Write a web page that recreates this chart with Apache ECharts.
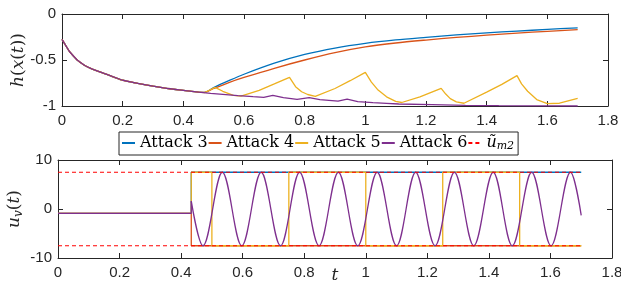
<!DOCTYPE html>
<html>
<head>
<meta charset="utf-8">
<script src="https://cdn.jsdelivr.net/npm/echarts@6/dist/echarts.min.js"></script>
<style>
  html, body { margin: 0; padding: 0; background: #fff; }
  #container { width: 621px; height: 287px; }
</style>
</head>
<body>
<div id="container"></div>
<script>
// common decay of h(x(t)) before the attacks start
var tDecay = [0, 0.01, 0.025, 0.05, 0.075, 0.1, 0.125, 0.15, 0.2, 0.25, 0.3, 0.35, 0.4, 0.45];
var hDecay = [-0.275, -0.33, -0.41, -0.5, -0.56, -0.6, -0.63, -0.66, -0.72, -0.755, -0.785, -0.81, -0.83, -0.85];

// h(x(t)) after the attack starts
var tA3 = [0.47, 0.5, 0.55, 0.6, 0.7, 0.8, 0.9, 1.0, 1.1, 1.2, 1.3, 1.4, 1.5, 1.6, 1.7];
var hA3 = [-0.852, -0.8, -0.725, -0.655, -0.535, -0.44, -0.37, -0.319, -0.282, -0.254, -0.228, -0.205, -0.186, -0.167, -0.15];
var tA4 = [0.47, 0.5, 0.55, 0.6, 0.7, 0.8, 0.9, 1.0, 1.1, 1.2, 1.3, 1.4, 1.5, 1.6, 1.7];
var hA4 = [-0.852, -0.81, -0.745, -0.69, -0.59, -0.5, -0.42, -0.358, -0.315, -0.283, -0.255, -0.23, -0.208, -0.188, -0.17];
var tA5 = [0.47, 0.505, 0.53, 0.565, 0.59, 0.65, 0.7, 0.75, 0.77, 0.79, 0.81, 0.835, 0.9, 0.95, 1.0, 1.02, 1.04, 1.07, 1.1, 1.12, 1.18, 1.25, 1.265, 1.28, 1.3, 1.325, 1.4, 1.45, 1.5, 1.515, 1.535, 1.565, 1.6, 1.64, 1.7];
var hA5 = [-0.855, -0.797, -0.84, -0.885, -0.893, -0.83, -0.76, -0.688, -0.79, -0.845, -0.875, -0.895, -0.81, -0.725, -0.634, -0.74, -0.82, -0.9, -0.95, -0.962, -0.9, -0.808, -0.87, -0.92, -0.955, -0.97, -0.85, -0.765, -0.67, -0.76, -0.84, -0.93, -0.975, -0.97, -0.917];
var tA6 = [0.49, 0.52, 0.58, 0.63, 0.665, 0.695, 0.73, 0.775, 0.815, 0.85, 0.91, 0.94, 0.975, 1.025, 1.07, 1.11, 1.22, 1.33, 1.44, 1.7];
var hA6 = [-0.862, -0.87, -0.888, -0.899, -0.906, -0.884, -0.909, -0.927, -0.908, -0.93, -0.946, -0.926, -0.953, -0.964, -0.971, -0.978, -0.986, -0.993, -0.996, -1.0];

// u_v(t) [t, u]
var uA3 = [[0, -0.9], [0.433, -0.9], [0.433, 7.5], [1.7, 7.5]];
var uA4 = [[0, -0.9], [0.433, -0.9], [0.433, -7.5], [1.7, -7.5]];
var uA5 = [[0, -0.9], [0.433, -0.9], [0.433, 7.5], [0.5, 7.5], [0.5, -7.5], [0.75, -7.5], [0.75, 7.5], [1.0, 7.5], [1.0, -7.5], [1.25, -7.5], [1.25, 7.5], [1.5, 7.5], [1.5, -7.5], [1.7, -7.5]];
var uA6flat = [[0, -0.9], [0.433, -0.9], [0.433, 1.6]];
var uA6wave = [[0.433, 1.6], [0.471, -7.5], [0.534, 7.5], [0.597, -7.5], [0.66, 7.5], [0.723, -7.5], [0.785, 7.5], [0.848, -7.5], [0.911, 7.5], [0.974, -7.5], [1.037, 7.5], [1.1, -7.5], [1.162, 7.5], [1.225, -7.5], [1.288, 7.5], [1.351, -7.5], [1.414, 7.5], [1.476, -7.5], [1.539, 7.5], [1.602, -7.5], [1.665, 7.5], [1.7, -1.3]];
var uBoundUp = [[0, 7.5], [1.7, 7.5]];
var uBoundLo = [[0, -7.5], [1.7, -7.5]];

var colors = { a3: '#0072BD', a4: '#D95319', a5: '#EDB120', a6: '#7E2F8E', bound: '#FF0000' };
var axisColor = '#262626';
var serif = 'DejaVu Serif';

function pairs(ts, vs) {
    return ts.map(function (t, i) { return [t, vs[i]]; });
}
function withDecay(ts, vs) {
    return pairs(tDecay, hDecay).concat(pairs(ts, vs));
}

function xAx(grid, pos, labels, extra) {
    var a = {
        gridIndex: grid, type: 'value', position: pos,
        min: 0, max: 1.8, interval: 0.2,
        axisLine: { onZero: false, lineStyle: { color: axisColor, width: 1 } },
        axisTick: { inside: true, length: 5, lineStyle: { color: axisColor } },
        axisLabel: { show: labels, fontFamily: 'Liberation Sans', fontSize: 15, color: axisColor, margin: 7 },
        splitLine: { show: false },
        nameMoveOverlap: false
    };
    return Object.assign(a, extra || {});
}
function yAx(grid, pos, min, max, step, labels, extra) {
    var a = {
        gridIndex: grid, type: 'value', position: pos,
        min: min, max: max, interval: step,
        axisLine: { onZero: false, lineStyle: { color: axisColor, width: 1 } },
        axisTick: { inside: true, length: 5, lineStyle: { color: axisColor } },
        axisLabel: { show: labels, fontFamily: 'Liberation Sans', fontSize: 15, color: axisColor, margin: 6 },
        splitLine: { show: false },
        nameMoveOverlap: false
    };
    return Object.assign(a, extra || {});
}

function line(name, data, color, xi, yi, extra) {
    var s = {
        name: name, type: 'line', data: data,
        xAxisIndex: xi, yAxisIndex: yi,
        symbol: 'none', smooth: false,
        lineStyle: { color: color, width: 1.3 },
        itemStyle: { color: color }
    };
    return Object.assign(s, extra || {});
}

var myChart = echarts.init(document.getElementById('container'));

var option = {
    animation: false,
    backgroundColor: '#fff',
    grid: [
        { left: 62, right: 13, top: 14, height: 92, containLabel: false, outerBoundsMode: 'none' },
        { left: 58, right: 9, top: 160, height: 98, containLabel: false, outerBoundsMode: 'none' }
    ],
    xAxis: [
        xAx(0, 'bottom', true),
        xAx(0, 'top', false),
        xAx(1, 'bottom', true, {
            name: '{i|t}', nameLocation: 'middle', nameGap: 9,
            nameTextStyle: { rich: { i: { fontFamily: serif, fontStyle: 'italic', fontSize: 17, color: axisColor } } }
        }),
        xAx(1, 'top', false)
    ],
    yAxis: [
        yAx(0, 'left', -1, 0, 0.5, true, {
            name: '{i|h}{r|(}{i|x}{r|(}{i|t}{r|))}', nameLocation: 'middle', nameGap: 35, nameRotate: 90,
            nameTextStyle: { rich: {
                i: { fontFamily: serif, fontStyle: 'italic', fontSize: 17, color: axisColor },
                r: { fontFamily: serif, fontSize: 17, color: axisColor }
            } }
        }),
        yAx(0, 'right', -1, 0, 0.5, false),
        yAx(1, 'left', -10, 10, 10, true, {
            name: '{i|u}{s|v}{r|(}{i|t}{r|)}', nameLocation: 'middle', nameGap: 33, nameRotate: 90,
            nameTextStyle: { rich: {
                i: { fontFamily: serif, fontStyle: 'italic', fontSize: 17, color: axisColor },
                s: { fontFamily: serif, fontStyle: 'italic', fontSize: 12, color: axisColor, padding: [8, 0, 0, 0] },
                r: { fontFamily: serif, fontSize: 17, color: axisColor }
            } }
        }),
        yAx(1, 'right', -10, 10, 10, false)
    ],
    legend: {
        data: ['Attack 3', 'Attack 4', 'Attack 5', 'Attack 6', 'um2'],
        left: 119, top: 132,
        itemWidth: 13, itemHeight: 10, itemGap: 0,
        padding: [3, 4, 3, 2],
        borderColor: axisColor, borderWidth: 1, backgroundColor: '#fff',
        // hide the marker dot, keep only the line in each legend icon
        itemStyle: { color: 'rgba(0,0,0,0)', borderColor: 'rgba(0,0,0,0)', borderWidth: 0 },
        textStyle: {
            fontFamily: serif, fontSize: 16, color: '#000',
            rich: {
                u: { fontFamily: serif, fontStyle: 'italic', fontSize: 16, color: '#000' },
                s: { fontFamily: serif, fontStyle: 'italic', fontSize: 11, color: '#000', padding: [7, 0, 0, 0] }
            }
        },
        formatter: function (n) { return n === 'um2' ? '{u|ũ}{s|m2}' : n; }
    },
    series: [
        line('Attack 3', withDecay(tA3, hA3), colors.a3, 0, 0, { smooth: 0.3 }),
        line('Attack 4', withDecay(tA4, hA4), colors.a4, 0, 0, { smooth: 0.3 }),
        line('Attack 5', withDecay(tA5, hA5), colors.a5, 0, 0),
        line('Attack 6', withDecay(tA6, hA6), colors.a6, 0, 0),

        line('Attack 3', uA3, colors.a3, 2, 2),
        line('Attack 4', uA4, colors.a4, 2, 2),
        line('Attack 5', uA5, colors.a5, 2, 2),
        line('Attack 6', uA6flat, colors.a6, 2, 2),
        line('Attack 6', uA6wave, colors.a6, 2, 2, { smooth: 0.36 }),
        line('um2', uBoundUp, colors.bound, 2, 2, { lineStyle: { color: colors.bound, width: 1, type: [4, 3] } }),
        line('um2', uBoundLo, colors.bound, 2, 2, { lineStyle: { color: colors.bound, width: 1, type: [4, 3] } })
    ]
};
myChart.setOption(option, true);
</script>
</body>
</html>
